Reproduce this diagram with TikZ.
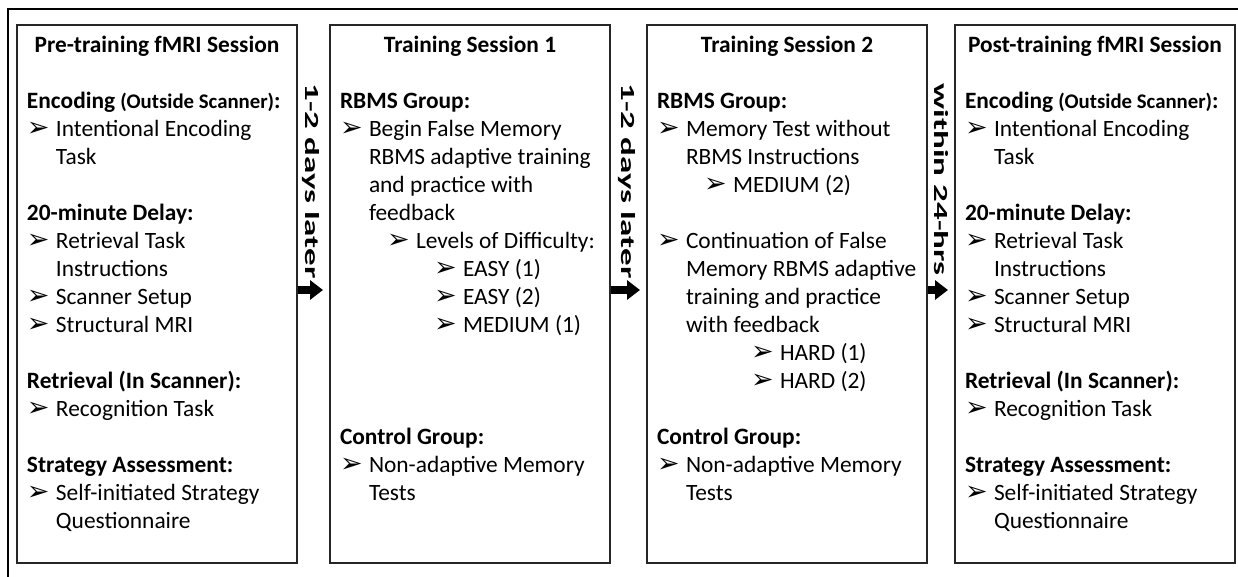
\documentclass[tikz,border=0pt]{standalone}
\usepackage{fontspec}
\usepackage{graphicx}
\setmainfont{Carlito}
\newfontfamily\symfont{DejaVu Sans}
\usetikzlibrary{arrows.meta}

\newcommand{\arw}{{\symfont\fontsize{13.5}{14}\selectfont ➢}}
\newcommand{\sm}[1]{{\fontsize{10.4}{14}\selectfont #1}}
\newcommand{\ttl}[1]{\par\leftskip=0pt\noindent\makebox[140pt]{\rule{0pt}{13.75pt}\textbf{#1}}}
\newcommand{\hd}[1]{\par\leftskip=5pt\noindent\textbf{#1}}
\newcommand{\itm}[2][0pt]{\par\leftskip=\dimexpr5pt+#1\relax\hangindent=14.5pt\hangafter=1\noindent\makebox[14.5pt][l]{\arw}#2}
\newcommand{\gap}{\par\vspace{14pt}}
\newcommand{\panel}[1]{\parbox[c][269pt][t]{140pt}{\fontsize{11.7}{14}\selectfont\rightskip=0pt plus 1fil\relax #1\par}}

\begin{document}
\begin{tikzpicture}[x=0.5pt,y=-0.5pt,
  sess/.style={draw=black!85, line width=1pt, inner sep=0pt},
  lag/.style={rotate=-90, anchor=east, inner sep=0pt, font=\bfseries},
  flow/.style={line width=4pt, -{Triangle[length=6.5pt,width=9.5pt]}, shorten >=3pt}]
  \useasboundingbox (0,0) rectangle (1238,577);
  \draw[line width=0.8pt] (8,577) -- (8,9) -- (1238,9);

  \node[sess] (s1) at (157,294) {\panel{%
    \ttl{Pre-training fMRI Session}\gap
    \hd{Encoding \sm{(Outside Scanner)}:}
    \itm{Intentional Encoding\\Task}\gap
    \hd{20-minute Delay:}
    \itm{Retrieval Task\\Instructions}
    \itm{Scanner Setup}
    \itm{Structural MRI}\gap
    \hd{Retrieval (In Scanner):}
    \itm{Recognition Task}\gap
    \hd{Strategy Assessment:}
    \itm{Self-initiated Strategy\\Questionnaire}}};

  \node[sess] (s2) at (470,294) {\panel{%
    \ttl{Training Session 1}\gap
    \hd{RBMS Group:}
    \itm{Begin False Memory\\RBMS adaptive training\\and practice with\\feedback}
    \itm[23.5pt]{Levels of Difficulty:}
    \itm[47pt]{EASY (1)}
    \itm[47pt]{EASY (2)}
    \itm[47pt]{MEDIUM (1)}\gap\gap\gap
    \hd{Control Group:}
    \itm{Non-adaptive Memory\\Tests}}};

  \node[sess] (s3) at (787,294) {\panel{%
    \ttl{Training Session 2}\gap
    \hd{RBMS Group:}
    \itm{Memory Test without\\RBMS Instructions}
    \itm[23.5pt]{MEDIUM (2)}\gap
    \itm{Continuation of False\\Memory RBMS adaptive\\training and practice\\with feedback}
    \itm[47pt]{HARD (1)}
    \itm[47pt]{HARD (2)}\gap
    \hd{Control Group:}
    \itm{Non-adaptive Memory\\Tests}}};

  \node[sess] (s4) at (1095,294) {\panel{%
    \ttl{Post-training fMRI Session}\gap
    \hd{Encoding \sm{(Outside Scanner)}:}
    \itm{Intentional Encoding\\Task}\gap
    \hd{20-minute Delay:}
    \itm{Retrieval Task\\Instructions}
    \itm{Scanner Setup}
    \itm{Structural MRI}\gap
    \hd{Retrieval (In Scanner):}
    \itm{Recognition Task}\gap
    \hd{Strategy Assessment:}
    \itm{Self-initiated Strategy\\Questionnaire}}};

  \path (s1.east) -- (s2.west) coordinate[midway] (g1);
  \path (s2.east) -- (s3.west) coordinate[midway] (g2);
  \path (s3.east) -- (s4.west) coordinate[midway] (g3);
  \node[lag] (l1) at ([xshift=-1.5pt,yshift=7.5pt]g1) {\scalebox{1.75}[1]{1-2 days later}};
  \node[lag] (l2) at ([xshift=-1pt,yshift=7.5pt]g2) {\scalebox{1.75}[1]{1-2 days later}};
  \node[lag] (l3) at ([yshift=9pt]g3) {\scalebox{1.75}[1]{within 24-hrs}};
  \draw[flow] ([yshift=2pt]s1.east) -- ([yshift=2pt]s2.west);
  \draw[flow] ([yshift=2pt]s2.east) -- ([yshift=2pt]s3.west);
  \draw[flow] ([yshift=2pt]s3.east) -- ([yshift=2pt]s4.west);
\end{tikzpicture}
\end{document}
